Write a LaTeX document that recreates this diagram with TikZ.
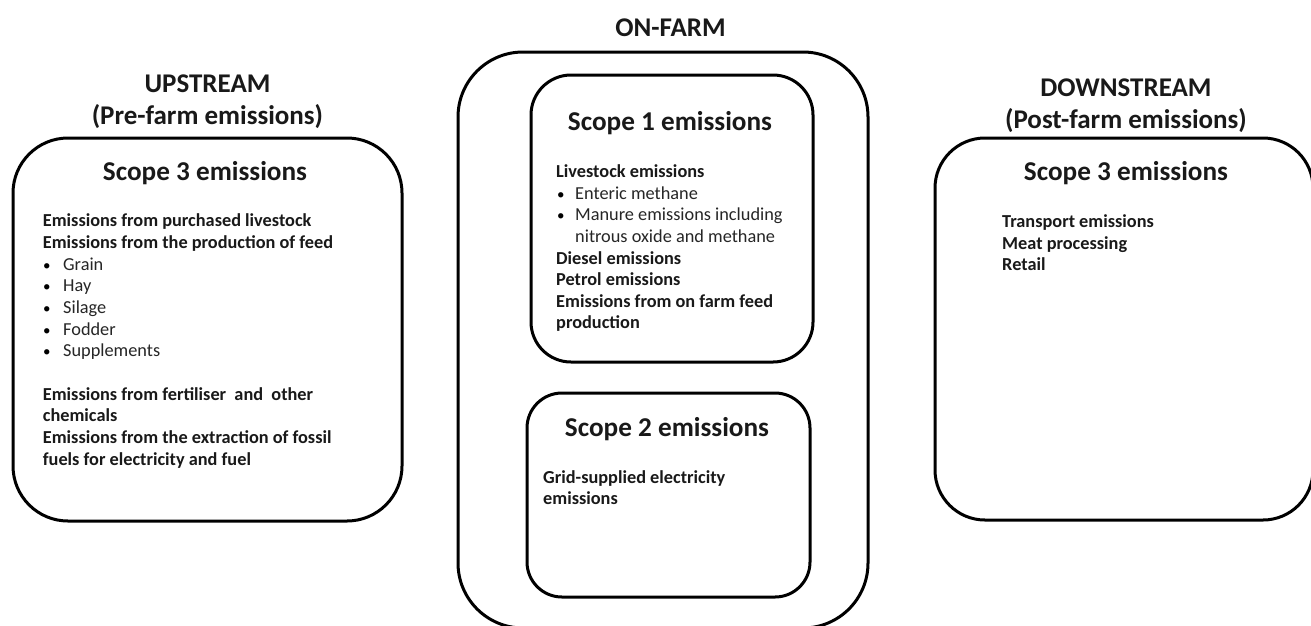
\documentclass[tikz,border=0pt]{standalone}
\usepackage{fontspec}
\setmainfont{Carlito}
\begin{document}
\begin{tikzpicture}[x=1pt,y=-1pt,
  box/.style={draw=black,line width=3pt},
  body/.style={anchor=base west,inner sep=0pt,text=black!90,font=\fontsize{18.3}{21}\selectfont\bfseries},
  item/.style={anchor=base west,inner sep=0pt,text=black!85,font=\fontsize{18.3}{21}\selectfont},
  dot/.style={anchor=base west,inner sep=0pt,font=\fontsize{15}{18}\selectfont},
  scopetitle/.style={anchor=base,inner sep=0pt,text=black!90,font=\fontsize{27.2}{31}\selectfont\bfseries},
  header/.style={anchor=base,inner sep=0pt,text=black!90,font=\fontsize{27}{31}\selectfont\bfseries}]
\useasboundingbox (0,0) rectangle (1311,625);
\clip (0,0) rectangle (1311,625);
\fill[white] (0,0) rectangle (1311,625);
% boxes
\draw[box,rounded corners=55pt] (13,138) rectangle (402,521);
\draw[box,rounded corners=65pt] (458,52) rectangle (868,628);
\draw[box,rounded corners=40pt] (531,75) rectangle (813,362);
\draw[box,rounded corners=35pt] (527,393) rectangle (810,597);
\draw[box,rounded corners=50pt] (935,138) rectangle (1313,520);
% headers
\node[header] (up1) at (207.5,92.3) {UPSTREAM};
\node[header] (up2) at (207.5,124.5) {(Pre-farm emissions)};
\node[header] (on) at (670.5,36.5) {ON-FARM};
\node[header] (dn1) at (1126,96.7) {DOWNSTREAM};
\node[header] (dn2) at (1126,128.7) {(Post-farm emissions)};
% scope titles
\node[scopetitle] (s3a) at (205,180.4) {Scope 3 emissions};
\node[scopetitle] (s1) at (670,130.7) {Scope 1 emissions};
\node[scopetitle] (s2) at (667,436.7) {Scope 2 emissions};
\node[scopetitle] (s3b) at (1126,180.7) {Scope 3 emissions};
% left box
\node[body] (l1) at (42.7,226.6) {Emissions from purchased livestock};
\node[body] (l2) at (42.7,248.3) {Emissions from the production of feed};
\node[dot] (b1) at (43,270) {•};
\node[item] (l3) at (63,270) {Grain};
\node[dot] (b2) at (43,291.7) {•};
\node[item] (l4) at (63,291.7) {Hay};
\node[dot] (b3) at (43,313.4) {•};
\node[item] (l5) at (63,313.4) {Silage};
\node[dot] (b4) at (43,335.1) {•};
\node[item] (l6) at (63,335.1) {Fodder};
\node[dot] (b5) at (43,356.8) {•};
\node[item] (l7) at (63,356.8) {Supplements};
\node[body] (l8) at (42.7,400.2) {Emissions from fertiliser\ \ and\ \ other};
\node[body] (l9) at (42.7,421.9) {chemicals};
\node[body] (l10) at (42.7,443.6) {Emissions from the extraction of fossil};
\node[body] (l11) at (42.7,465.3) {fuels for electricity and fuel};
% scope 1
\node[body] (m1) at (556,177.6) {Livestock emissions};
\node[dot] (mb1) at (557,199.2) {•};
\node[item] (m2) at (575,199.2) {Enteric methane};
\node[dot] (mb2) at (557,220.8) {•};
\node[item] (m3) at (575,220.8) {Manure emissions including};
\node[item] (m4) at (575,242.4) {nitrous oxide and methane};
\node[body] (m5) at (556,264) {Diesel emissions};
\node[body] (m6) at (556,285.6) {Petrol emissions};
\node[body] (m7) at (556,307.2) {Emissions from on farm feed};
\node[body] (m8) at (556,328.8) {production};
% scope 2
\node[body] (g1) at (543,483.6) {Grid-supplied electricity};
\node[body] (g2) at (543,504) {emissions};
% right
\node[body] (r1) at (1002,227.6) {Transport emissions};
\node[body] (r2) at (1002,249) {Meat processing};
\node[body] (r3) at (1002,270.5) {Retail};
\end{tikzpicture}
\end{document}
